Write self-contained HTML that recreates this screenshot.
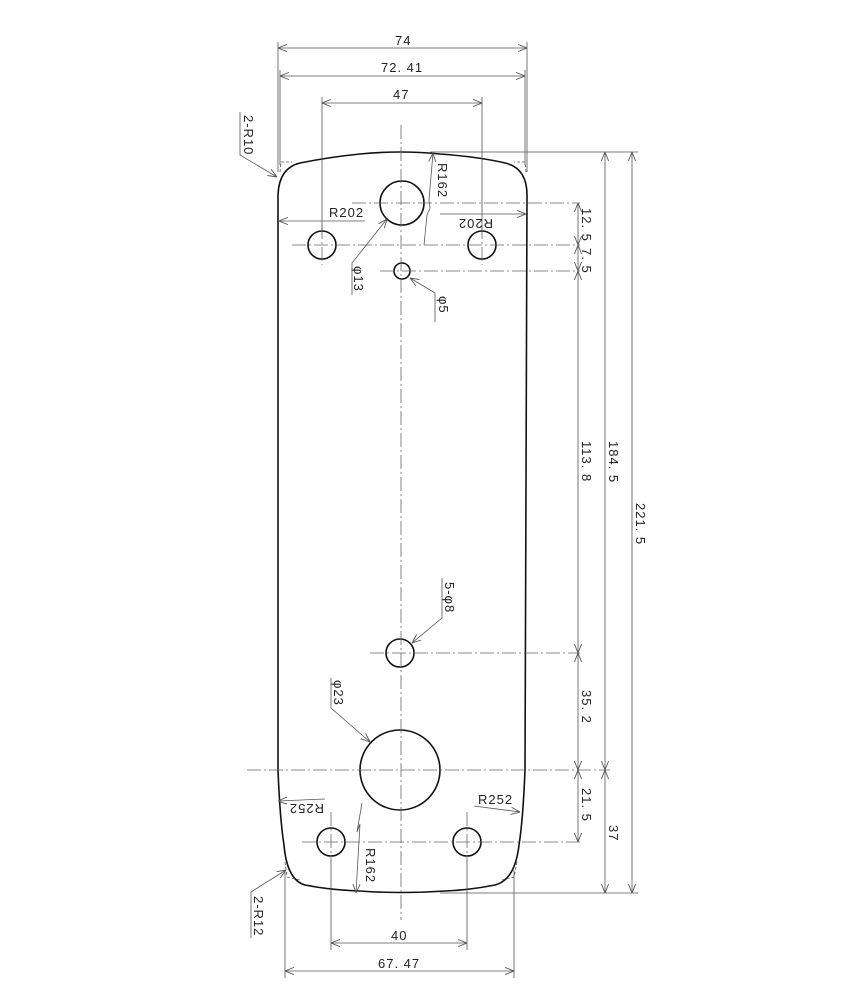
<!DOCTYPE html>
<html><head><meta charset="utf-8"><style>
html,body{margin:0;padding:0;background:#fff}
svg{display:block}
text{font-family:"Liberation Sans",sans-serif;font-size:13px;letter-spacing:1px;fill:#222}
.o{stroke:#111;stroke-width:1.6;fill:none}
.d{stroke:#555;stroke-width:0.8;fill:none}
.c{stroke:#666;stroke-width:0.8;fill:none;stroke-dasharray:14 3 2 3}
</style></head><body>
<svg width="850" height="1000" viewBox="0 0 850 1000" xmlns="http://www.w3.org/2000/svg">
<defs>
<marker id="a" viewBox="0 0 10 10" refX="10" refY="5" markerWidth="9" markerHeight="9" orient="auto-start-reverse" markerUnits="userSpaceOnUse"><path d="M0,1 L10,5 L0,9" fill="none" stroke="#555" stroke-width="1"/></marker>
</defs>

<path class="o" d="M278,195 Q279,168 300,163 Q330,157 360,154 Q401,150 440,154 Q480,157 505,163 Q527,168 527,195
 L525,770 Q523,820 519,845 Q515,880 495,885 Q470,890 445,891 Q401,894 360,891 Q330,890 305,885 Q287,880 284,845 Q280,820 278,770 Z"/>
<path class="d" d="M280,172 L281,162 L292,162 M526,172 L525,162 L514,162 M285,862 L287,877 L300,880 M517,862 L514,877 L502,880" stroke-dasharray="3 2"/>

<circle class="o" cx="402" cy="203" r="22"/>
<circle class="o" cx="322" cy="245" r="14"/>
<circle class="o" cx="482" cy="245" r="14"/>
<circle class="o" cx="402" cy="271" r="8"/>
<circle class="o" cx="400" cy="653" r="14"/>
<circle class="o" cx="400" cy="770" r="40"/>
<circle class="o" cx="331" cy="842" r="14"/>
<circle class="o" cx="467" cy="842" r="14"/>

<line class="c" x1="401" y1="125" x2="401" y2="920"/>
<line class="c" x1="352" y1="203" x2="580" y2="203"/>
<line class="c" x1="292" y1="245" x2="580" y2="245"/>
<line class="c" x1="380" y1="271" x2="580" y2="271"/>
<line class="c" x1="370" y1="653" x2="580" y2="653"/>
<line class="c" x1="247" y1="770" x2="610" y2="770"/>
<line class="c" x1="302" y1="842" x2="580" y2="842"/>
<line class="c" x1="322" y1="225" x2="322" y2="265"/>
<line class="c" x1="482" y1="225" x2="482" y2="265"/>
<line class="c" x1="331" y1="812" x2="331" y2="862"/>
<line class="c" x1="467" y1="812" x2="467" y2="862"/>

<path class="d" d="M278,42 V172 M527,42 V172 M280,70 V165 M525,70 V165 M322,97 V230 M482,97 V230
 M331,860 V950 M467,860 V950 M285,870 V978 M514,870 V978
 M430,152 H638 M440,893 H638"/>

<line class="d" x1="278" y1="48" x2="527" y2="48" marker-start="url(#a)" marker-end="url(#a)"/>
<text x="395" y="45">74</text>
<line class="d" x1="280" y1="76" x2="525" y2="76" marker-start="url(#a)" marker-end="url(#a)"/>
<text x="381" y="72">72. 41</text>
<line class="d" x1="322" y1="103" x2="482" y2="103" marker-start="url(#a)" marker-end="url(#a)"/>
<text x="393" y="99">47</text>
<line class="d" x1="331" y1="943" x2="467" y2="943" marker-start="url(#a)" marker-end="url(#a)"/>
<text x="391" y="940">40</text>
<line class="d" x1="285" y1="971" x2="514" y2="971" marker-start="url(#a)" marker-end="url(#a)"/>
<text x="378" y="968">67. 47</text>

<line class="d" x1="578" y1="203" x2="578" y2="245" marker-start="url(#a)" marker-end="url(#a)"/>
<line class="d" x1="578" y1="245" x2="578" y2="271" marker-start="url(#a)" marker-end="url(#a)"/>
<line class="d" x1="578" y1="271" x2="578" y2="653" marker-start="url(#a)" marker-end="url(#a)"/>
<line class="d" x1="578" y1="653" x2="578" y2="770" marker-start="url(#a)" marker-end="url(#a)"/>
<line class="d" x1="578" y1="770" x2="578" y2="842" marker-start="url(#a)" marker-end="url(#a)"/>
<line class="d" x1="605" y1="152" x2="605" y2="770" marker-start="url(#a)" marker-end="url(#a)"/>
<line class="d" x1="605" y1="770" x2="605" y2="893" marker-start="url(#a)" marker-end="url(#a)"/>
<line class="d" x1="632" y1="152" x2="632" y2="893" marker-start="url(#a)" marker-end="url(#a)"/>
<text transform="translate(582,208) rotate(90)">12. 5</text>
<text transform="translate(582,248) rotate(90)">7. 5</text>
<text transform="translate(582,441) rotate(90)">113. 8</text>
<text transform="translate(582,690) rotate(90)">35. 2</text>
<text transform="translate(582,788) rotate(90)">21. 5</text>
<text transform="translate(609,441) rotate(90)">184. 5</text>
<text transform="translate(609,825) rotate(90)">37</text>
<text transform="translate(636,503) rotate(90)">221. 5</text>

<path class="d" d="M240,112 V155 L277,177" marker-end="url(#a)"/>
<text transform="translate(244,115) rotate(90)">2-R10</text>
<path class="d" d="M352,295 V263 L387,219" marker-end="url(#a)"/>
<text transform="translate(354,266) rotate(90)">φ13</text>
<path class="d" d="M435,322 V293 L410,278" marker-end="url(#a)"/>
<text transform="translate(439,296) rotate(90)">φ5</text>
<path class="d" d="M442,578 V618 L412,643" marker-end="url(#a)"/>
<text transform="translate(445,582) rotate(90)">5-φ8</text>
<path class="d" d="M331,678 V708 L370,742" marker-end="url(#a)"/>
<text transform="translate(334,680) rotate(90)">φ23</text>
<path class="d" d="M251,938 V892 L286,870" marker-end="url(#a)"/>
<text transform="translate(254,896) rotate(90)">2-R12</text>
<line class="d" x1="365" y1="221" x2="279" y2="221" marker-end="url(#a)"/>
<text x="329" y="217">R202</text>
<line class="d" x1="440" y1="214" x2="526" y2="214" marker-end="url(#a)"/>
<text transform="translate(493,219) rotate(180)">R202</text>
<path class="d" d="M424,245 L427,215 L430,208 L429,200 L433,153" marker-end="url(#a)"/>
<text transform="translate(438,163) rotate(90)">R162</text>
<line class="d" x1="325" y1="799" x2="278" y2="801" marker-end="url(#a)"/>
<text transform="translate(324,804) rotate(180)">R252</text>
<path class="d" d="M474,806 L520,812" marker-end="url(#a)"/>
<text x="478" y="804">R252</text>
<path class="d" d="M362,803 L357,832 L360,824 L356,893" marker-end="url(#a)"/>
<text transform="translate(366,848) rotate(90)">R162</text>
</svg>
</body></html>
